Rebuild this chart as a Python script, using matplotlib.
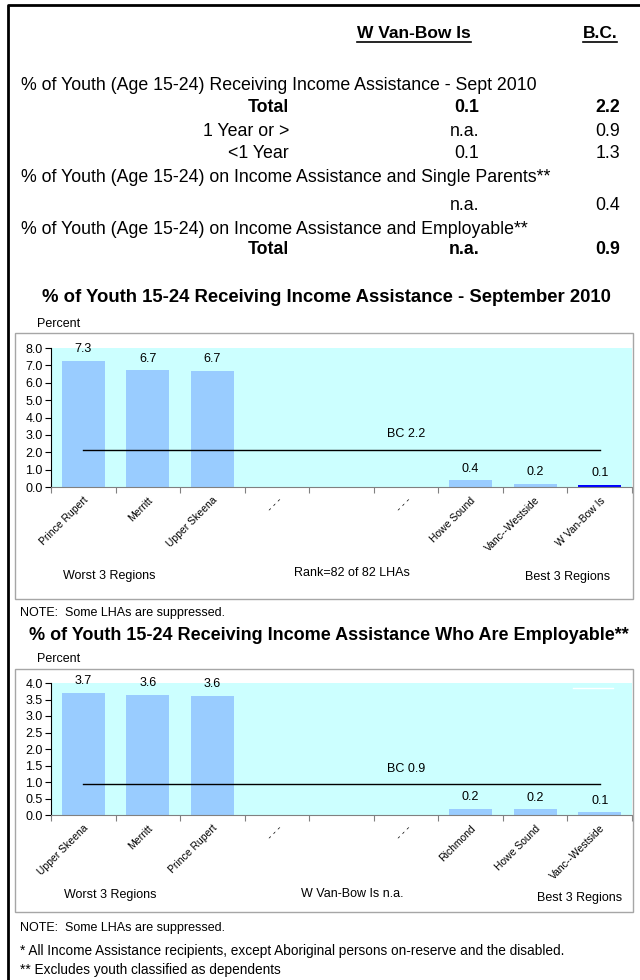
import numpy as np
import matplotlib
matplotlib.use("Agg")
import matplotlib.pyplot as plt
from matplotlib.lines import Line2D
from matplotlib.patches import Rectangle

plt.rcParams['font.family'] = ['Liberation Sans', 'DejaVu Sans']

# ---- data ----
table_cols = ["W Van-Bow Is", "B.C."]
table_rows = [
    ("% of Youth (Age 15-24) Receiving Income Assistance - Sept 2010", "", "", "section"),
    ("Total", "0.1", "2.2", "bold"),
    ("1 Year or >", "n.a.", "0.9", "normal"),
    ("<1 Year", "0.1", "1.3", "normal"),
    ("% of Youth (Age 15-24) on Income Assistance and Single Parents**", "", "", "section"),
    ("", "n.a.", "0.4", "normal"),
    ("% of Youth (Age 15-24) on Income Assistance and Employable**", "", "", "section"),
    ("Total", "n.a.", "0.9", "bold"),
]

regions1 = ["Prince Rupert", "Merritt", "Upper Skeena", "- - -", "", "- - -",
            "Howe Sound", "Vanc--Westside", "W Van-Bow Is"]
values1 = [7.26, 6.71, 6.70, np.nan, np.nan, np.nan, 0.38, 0.17, 0.12]
bc1 = 2.15
bc1_label = "BC 2.2"

regions2 = ["Upper Skeena", "Merritt", "Prince Rupert", "- - -", "", "- - -",
            "Richmond", "Howe Sound", "Vanc--Westside"]
values2 = [3.69, 3.64, 3.61, np.nan, np.nan, np.nan, 0.18, 0.17, 0.08]
bc2 = 0.94
bc2_label = "BC 0.9"

W, H = 640, 980
fig = plt.figure(figsize=(W / 100, H / 100), dpi=100)


def fx(x):
    return x / W


def fy(y):
    return 1 - y / H


# page border (left and top)
fig.add_artist(Line2D([fx(8), fx(8), 1], [0, fy(5), fy(5)], color="black", lw=2, transform=fig.transFigure))

# ---- summary table ----
TS = 12.8
renderer = fig.canvas.get_renderer()
for label, xc in zip(table_cols, [414, 600]):
    t = fig.text(fx(xc), fy(33), label, ha="center", va="center", fontsize=12.5, fontweight="bold")
    bb = t.get_window_extent(renderer)
    fig.add_artist(Line2D([bb.x0 / W, bb.x1 / W], [fy(42), fy(42)], color="black", lw=1.2,
                          transform=fig.transFigure))

row_y = [86, 108, 131, 154, 177, 206, 229, 250]
for (label, v1, v2, kind), y in zip(table_rows, row_y):
    weight = "bold" if kind == "bold" else "normal"
    if kind == "section":
        fig.text(fx(21), fy(y), label, ha="left", va="center", fontsize=TS)
    else:
        fig.text(fx(289), fy(y), label, ha="right", va="center", fontsize=TS, fontweight=weight)
    fig.text(fx(479), fy(y), v1, ha="right", va="center", fontsize=TS, fontweight=weight)
    fig.text(fx(620), fy(y), v2, ha="right", va="center", fontsize=TS, fontweight=weight)


def bar_panel(top, bottom, box_top, box_bottom, regions, values, ymax, ystep,
              bc, bc_label, own_idx, notes):
    fig.add_artist(Rectangle((fx(15), fy(box_bottom)), (633 - 15) / W, (box_bottom - box_top) / H,
                             fill=False, edgecolor="#A6A6A6", lw=1, transform=fig.transFigure))
    ax = fig.add_axes([fx(51), fy(bottom), (632 - 51) / W, (bottom - top) / H])
    ax.set_facecolor("#CCFFFF")
    x = np.arange(len(regions)) + 0.5
    colors = ["#0000FF" if i == own_idx else "#99CCFF" for i in range(len(regions))]
    ax.bar(x, values, width=0.67, color=colors)
    for xi, v in zip(x, values):
        if not np.isnan(v):
            ax.annotate(f"{v:.1f}", (xi, v), xytext=(0, 8.5), textcoords="offset points",
                        ha="center", va="center", fontsize=9)
    ax.plot([x[0], x[-1]], [bc, bc], color="black", lw=1)
    ax.annotate(bc_label, (5.5, bc), xytext=(0, 11), textcoords="offset points",
                ha="center", va="center", fontsize=9)
    ax.set_xlim(0, len(regions))
    ax.set_ylim(0, ymax)
    yt = np.arange(0, ymax + ystep / 2, ystep)
    ax.set_yticks(yt)
    ax.set_yticklabels([f"{t:.1f}" for t in yt], fontsize=9)
    ax.set_xticks(np.arange(len(regions) + 1))
    ax.set_xticklabels([])
    ax.set_xticks(x, regions, minor=True, rotation=45, ha="right", va="top",
                  rotation_mode="anchor", fontsize=7.5)
    ax.tick_params(axis="x", which="major", length=4, color="#808080")
    ax.tick_params(axis="x", which="minor", length=0, pad=6)
    ax.tick_params(axis="y", length=4, pad=2, color="black")
    ax.spines["top"].set_visible(False)
    ax.spines["right"].set_visible(False)
    ax.spines["bottom"].set_color("#808080")
    ax.spines["left"].set_color("black")
    fig.text(fx(37), fy(top - 24), "Percent", ha="left", va="center", fontsize=9)
    for (tx, ty, s) in notes:
        fig.text(fx(tx), fy(ty), s, ha="center", va="center", fontsize=9)
    return ax


fig.text(fx(326), fy(298), "% of Youth 15-24 Receiving Income Assistance - September 2010",
         ha="center", va="center", fontsize=13.3, fontweight="bold")
bar_panel(348, 487, 333, 599, regions1, values1, 8.0, 1.0, bc1, bc1_label, 8,
          [(109, 576, "Worst 3 Regions"), (352, 573, "Rank=82 of 82 LHAs"), (568, 577, "Best 3 Regions")])
fig.text(fx(20), fy(613), "NOTE:  Some LHAs are suppressed.", ha="left", va="center", fontsize=9)

fig.text(fx(329), fy(635), "% of Youth 15-24 Receiving Income Assistance Who Are Employable**",
         ha="center", va="center", fontsize=13, fontweight="bold")
bar_panel(683, 815, 669, 912, regions2, values2, 4.0, 0.5, bc2, bc2_label, -1,
          [(110, 895, "Worst 3 Regions"), (352, 894, "W Van-Bow Is n.a."), (580, 898, "Best 3 Regions")])
fig.add_artist(Line2D([fx(573), fx(613)], [fy(688), fy(688)], color="white", lw=1, transform=fig.transFigure))

fig.text(fx(20), fy(928), "NOTE:  Some LHAs are suppressed.", ha="left", va="center", fontsize=9)
fig.text(fx(20), fy(951), "* All Income Assistance recipients, except Aboriginal persons on-reserve and the disabled.",
         ha="left", va="center", fontsize=9.8)
fig.text(fx(20), fy(970), "** Excludes youth classified as dependents", ha="left", va="center", fontsize=9.8)

fig.savefig("out.png", dpi=100)
